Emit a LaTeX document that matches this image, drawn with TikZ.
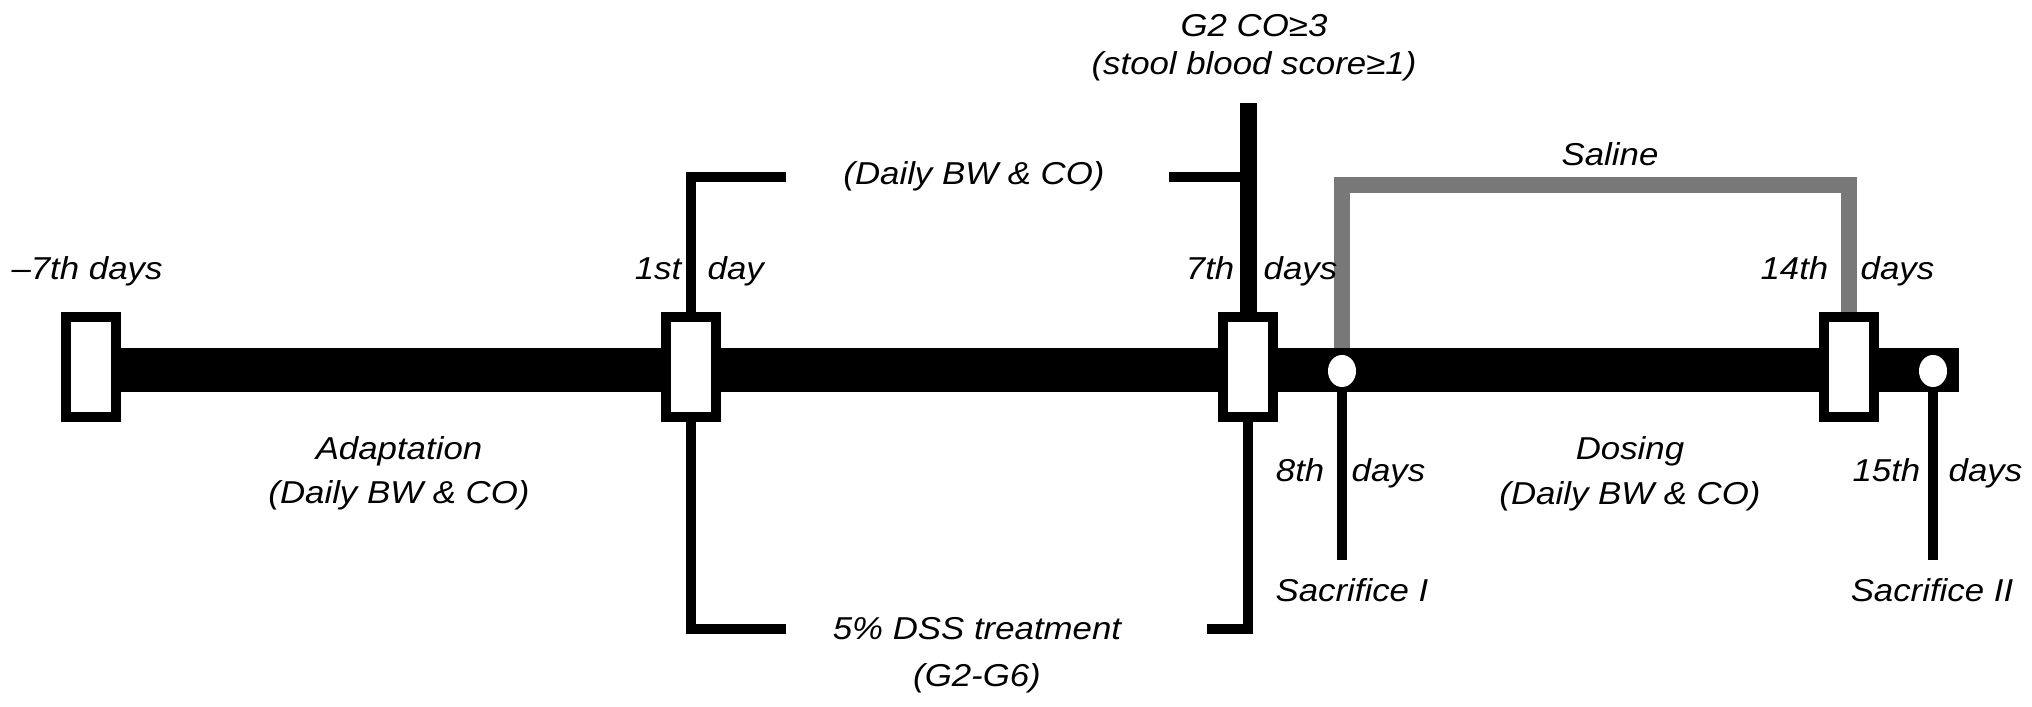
\documentclass[tikz,border=0pt]{standalone}
\usepackage{fontspec}
\setmainfont{Liberation Sans}[FakeStretch=1.1]
\usetikzlibrary{positioning,shapes.geometric,backgrounds}
\definecolor{salinegray}{RGB}{120,120,120}

\begin{document}
\begin{tikzpicture}[x=0.01cm, y=-0.01cm,
    daybox/.style={rectangle, draw=black, fill=white, line width=0.1cm,
                   minimum width=0.5cm, minimum height=1.0cm, inner sep=0pt},
    dot/.style={ellipse, fill=white, minimum width=0.28cm,
                minimum height=0.32cm, inner sep=0pt},
    bar/.style={line width=0.43cm},
    bracket/.style={line width=0.1cm},
    saline/.style={line width=0.16cm, draw=salinegray},
    lbl/.style={font=\fontsize{9}{11}\selectfont\itshape, inner sep=0pt}
]
    \useasboundingbox (0,0) rectangle (2032,707);

    % time points on the bar
    \node[daybox] (d0)  at (91,  367) {};
    \node[daybox] (d1)  at (691, 367) {};
    \node[daybox] (d7)  at (1248,367) {};
    \node[daybox] (d14) at (1849,367) {};
    \node[dot]    (s8)  at (1342,371) {};
    \node[dot]    (s15) at (1933,371) {};

    \coordinate (barend)    at (1959,370);
    \coordinate (g2top)     at (1248,103);
    \coordinate (salinetop) at (1593,185);

    \begin{scope}[on background layer]
        \draw[saline] (s8.center) |- (salinetop) -| (d14.center);
        \draw[bar] (d0.center |- barend) -- (barend);
        % DSS brackets
        \draw[bracket] (d1.center) |- (786,177);
        \draw[bracket] (d1.center) |- (786,629);
        \draw[line width=0.17cm] (g2top) -- (d7.center);
        \draw[bracket] (1169,177) -- (1250,177);
        \draw[bracket] (d7.center) |- (1207,629);
        % sacrifice lines
        \draw[bracket] (s8.center) -- (1342,560);
        \draw[bracket] (s15.center) -- (1933,560);
    \end{scope}

    % labels above
    \node[lbl, anchor=base] (g2)    at (1254,37)  {G2 CO≥3};
    \node[lbl, anchor=base] (stool) at (1254,75)  {(stool blood score≥1)};
    \node[lbl, anchor=base] (bwtop) at (974,185)  {(Daily BW \& CO)};
    \node[lbl, anchor=base] (saltx) at (1610,166) {Saline};

    \node[lbl, anchor=base]      (t0)  at (87,280)   {–7th days};
    \node[lbl, anchor=base east] (t1a) at (682,280)  {1st};
    \node[lbl, anchor=base west] (t1b) at (707,280)  {day};
    \node[lbl, anchor=base east] (t7a) at (1235,280) {7th};
    \node[lbl, anchor=base west] (t7b) at (1263,280) {days};
    \node[lbl, anchor=base east] (t14a) at (1829,280) {14th};
    \node[lbl, anchor=base west] (t14b) at (1860,280) {days};

    % labels below
    \node[lbl, anchor=base] (adapt)  at (399,460) {Adaptation};
    \node[lbl, anchor=base] (bwadp)  at (399,504) {(Daily BW \& CO)};
    \node[lbl, anchor=base] (dss)    at (977,640) {5\% DSS treatment};
    \node[lbl, anchor=base] (grp)    at (977,687) {(G2-G6)};
    \node[lbl, anchor=base east] (t8a)  at (1325,482) {8th};
    \node[lbl, anchor=base west] (t8b)  at (1351,482) {days};
    \node[lbl, anchor=base] (sac1)   at (1352,602) {Sacrifice I};
    \node[lbl, anchor=base] (dose)   at (1630,460) {Dosing};
    \node[lbl, anchor=base] (bwdose) at (1630,505) {(Daily BW \& CO)};
    \node[lbl, anchor=base east] (t15a) at (1921,482) {15th};
    \node[lbl, anchor=base west] (t15b) at (1948,482) {days};
    \node[lbl, anchor=base] (sac2)   at (1932,602) {Sacrifice II};
\end{tikzpicture}
\end{document}
